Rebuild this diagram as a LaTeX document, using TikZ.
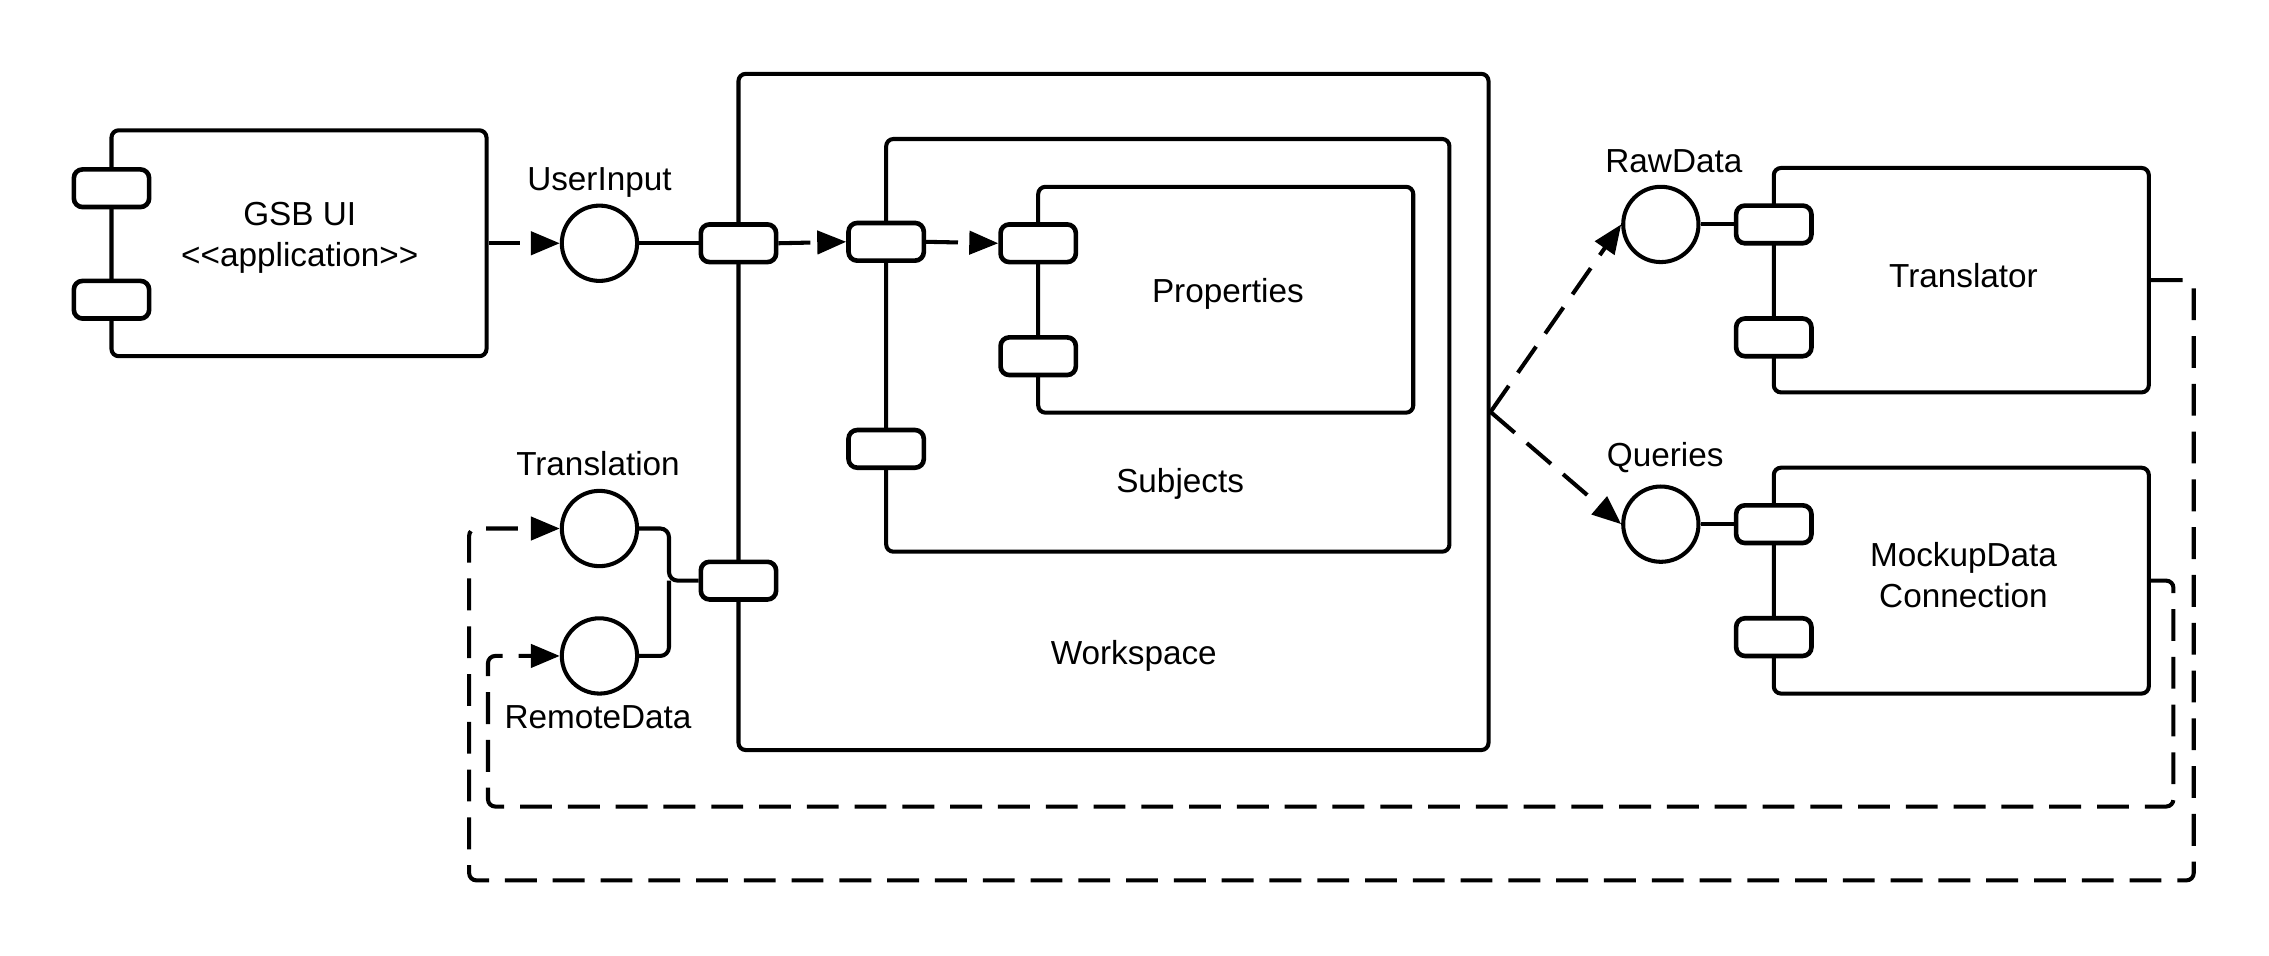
\documentclass[tikz,border=0pt]{standalone}
\usepackage{fontspec}
\setmainfont{Liberation Sans}
\usetikzlibrary{arrows.meta,fit}
\tikzset{
    comp/.style={draw, line width=2.8pt, rounded corners=5pt, inner sep=0pt},
    port/.style={draw, fill=white, line width=3.2pt, rounded corners=6pt,
        minimum width=52pt, minimum height=26pt, inner sep=0pt},
    iface/.style={draw, circle, fill=white, line width=2.8pt, minimum size=52pt, inner sep=0pt},
    conn/.style={line width=2.8pt},
    dep/.style={line width=2.8pt, dash pattern=on 22pt off 11pt,
        -{Triangle[length=20pt,width=16pt]}},
    feedback/.style={dep, rounded corners=5pt},
}
\newcommand\Component[7]{%
    \node[comp, fit={(#2,#3) (#4,#5)}] (#1) {};
    \node[port] (#1p1) at (#2,#6) {};
    \node[port] (#1p2) at (#2,#7) {};
}
\begin{document}
\begin{tikzpicture}[x=1pt, y=-1pt, font=\fontsize{23}{28.5}\selectfont]
    \useasboundingbox (0,0) rectangle (1567,660);
    \Component{gsb}{77}{90}{336}{246}{130}{207}
    \Component{ws}{510}{51}{1028}{518}{168}{401}
    \Component{subj}{612}{96}{1001}{381}{167}{310}
    \Component{prop}{717}{129}{976}{285}{168}{246}
    \Component{tr}{1225}{116}{1484}{271}{155}{233}
    \Component{mock}{1225}{323}{1484}{479}{362}{440}
    \node[align=center] (gsbtext) at (207,164) {GSB UI\\<\kern0pt<application>\kern0pt>};
    \node (proptext) at (848,203) {Properties};
    \node (subjtext) at (815,334) {Subjects};
    \node (wstext) at (783,453) {Workspace};
    \node (trtext) at (1356,190) {Translator};
    \node[align=center] (mocktext) at (1356,397) {MockupData\\Connection};
    \node[iface] (userin) at (414,168) {};
    \node[iface] (trans) at (414,365) {};
    \node[iface] (remote) at (414,453) {};
    \node[iface] (raw) at (1147,155) {};
    \node[iface] (query) at (1147,362) {};
    \node at (414,126) {UserInput};
    \node at (413,320) {Translation};
    \node at (413,495) {RemoteData};
    \node at (1156,111) {RawData};
    \node at (1150,316) {Queries};
    \draw[dep] (gsb.east) -- (userin.west);
    \draw[conn] (userin.east) -- (wsp1.west);
    \draw[dep] (wsp1.east) -- (subjp1.west);
    \draw[dep] (subjp1.east) -- (propp1.west);
    \coordinate (join) at (462,401);
    \draw[conn, rounded corners=6pt] (trans.east) -| (join) -- (wsp2.west);
    \draw[conn, rounded corners=6pt] (remote.east) -| (join);
    \draw[dep] (ws.east) -- (raw.west);
    \draw[dep] (ws.east) -- (query.west);
    \draw[conn] (raw.east) -- (trp1.west);
    \draw[conn] (query.east) -- (mockp1.west);
    \coordinate (outerA) at (1515,608);
    \coordinate (outerB) at (324,365);
    \draw[feedback] (tr.east) -| (outerA) -| (outerB) -- (trans.west);
    \coordinate (innerA) at (1501,557);
    \coordinate (innerB) at (337,453);
    \draw[feedback] (mock.east) -| (innerA) -| (innerB) -- (remote.west);
\end{tikzpicture}
\end{document}
